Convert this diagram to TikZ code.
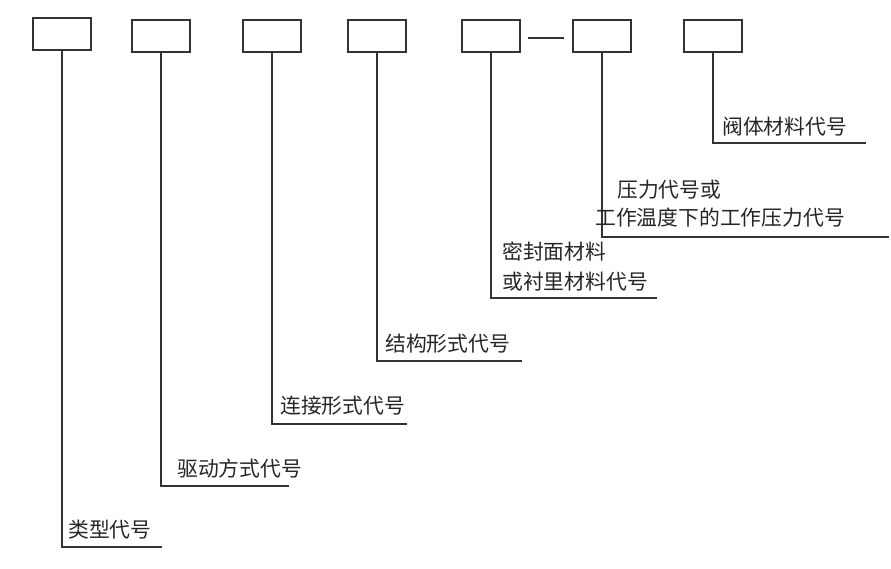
\documentclass[tikz,border=0pt]{standalone}
\usepackage{fontspec}
\newfontfamily\cjk{Noto Sans CJK SC}
\begin{document}
\begin{tikzpicture}[x=1pt,y=-1pt,
  ln/.style={draw=black!80, line width=1.3pt},
  codebox/.style={draw=black!80, line width=1.5pt, minimum width=58pt, minimum height=32pt, inner sep=0pt},
  lbl/.style={anchor=west, inner sep=0pt, font=\cjk\fontsize{20.8}{24}\selectfont, text=black!85}]
\useasboundingbox (0,0) rectangle (891,569);
% boxes
\node[codebox] (b1) at (62,34) {};
\node[codebox] (b2) at (161,36) {};
\node[codebox] (b3) at (272,36) {};
\node[codebox] (b4) at (377,36) {};
\node[codebox] (b5) at (491,36) {};
\node[codebox] (b6) at (602,36) {};
\node[codebox] (b7) at (713,36) {};
% dash between b5 and b6
\coordinate (d1) at (528,38);
\coordinate (d2) at (564,38);
\draw[ln] (d1) -- (d2);
% leader lines
\coordinate (c1) at (62,547);  \coordinate (e1) at (162,547);
\coordinate (c2) at (161,486); \coordinate (e2) at (289,486);
\coordinate (c3) at (272,424); \coordinate (e3) at (407,424);
\coordinate (c4) at (377,361); \coordinate (e4) at (522,361);
\coordinate (c5) at (491,298); \coordinate (e5) at (657,298);
\coordinate (c6) at (602,237); \coordinate (e6) at (889,237);
\coordinate (c7) at (713,143); \coordinate (e7) at (866,143);
\foreach \i in {1,...,7} {\draw[ln] (b\i.south) -- (c\i) -- (e\i);}
% labels
\node[lbl] (t1) at (68,530) {类型代号};
\node[lbl] (t2) at (177,469) {驱动方式代号};
\node[lbl] (t3) at (280,406) {连接形式代号};
\node[lbl] (t4) at (385,344) {结构形式代号};
\node[lbl] (t5a) at (502,251) {密封面材料};
\node[lbl] (t5b) at (502,282) {或衬里材料代号};
\node[lbl] (t6a) at (617,190) {压力代号或};
\node[lbl] (t6b) at (595,218) {工作温度下的工作压力代号};
\node[lbl] (t7) at (722,127) {阀体材料代号};
\end{tikzpicture}
\end{document}
